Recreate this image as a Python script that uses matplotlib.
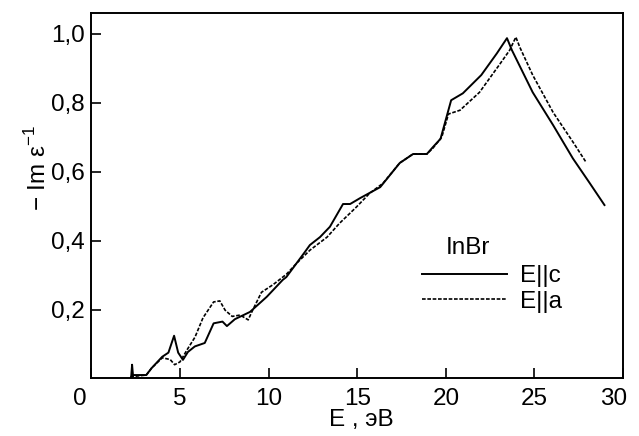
import matplotlib
matplotlib.use("Agg")
import matplotlib.pyplot as plt
import matplotlib.transforms as mtransforms

plt.rcParams["font.family"] = ["Liberation Sans", "DejaVu Sans"]
plt.rcParams["mathtext.fontset"] = "custom"
plt.rcParams["mathtext.rm"] = "Liberation Sans"

# E || c (сплошная)
e_c = [2.25, 2.3, 2.35, 2.45, 3.1, 3.4, 4.0, 4.35, 4.67, 4.9, 5.17, 5.45, 5.84, 6.4,
       6.9, 7.4, 7.65, 8.1, 8.95, 9.9, 10.8, 11.0, 12.05, 12.33, 12.9, 13.46, 14.2,
       14.6, 15.16, 16.3, 17.4, 18.15, 18.93, 19.27, 19.7, 20.3, 20.96, 22.0,
       22.88, 23.45, 23.73, 24.9, 26.05, 27.17, 28.1, 28.95]
im_c = [0.005, 0.04, 0.01, 0.01, 0.01, 0.03, 0.063, 0.075, 0.124, 0.075, 0.054, 0.077,
        0.093, 0.103, 0.16, 0.165, 0.152, 0.172, 0.193, 0.237, 0.286, 0.294, 0.367,
        0.387, 0.41, 0.44, 0.506, 0.506, 0.523, 0.555, 0.625, 0.651, 0.651, 0.671,
        0.695, 0.807, 0.827, 0.88, 0.943, 0.987, 0.952, 0.83, 0.735, 0.638, 0.568,
        0.503]

# E || a (пунктир)
e_a = [2.2, 3.1, 3.4, 4.0, 4.45, 4.7, 5.0, 5.4, 5.85, 6.3, 6.9, 7.25, 7.55, 7.95,
       8.4, 8.85, 9.1, 9.6, 10.25, 11.0, 11.6, 12.33, 13.3, 14.0, 14.95, 15.7, 16.45,
       17.4, 18.15, 18.93, 19.27, 19.77, 20.15, 20.8, 21.9, 23.05, 23.6, 23.95, 24.18,
       24.9, 26.05, 27.17, 27.9]
im_a = [0.005, 0.01, 0.03, 0.06, 0.055, 0.04, 0.048, 0.083, 0.12, 0.176, 0.222, 0.225,
        0.198, 0.18, 0.184, 0.17, 0.198, 0.25, 0.272, 0.302, 0.335, 0.372, 0.41, 0.45,
        0.497, 0.537, 0.566, 0.625, 0.651, 0.651, 0.668, 0.70, 0.767, 0.778, 0.83,
        0.912, 0.952, 0.99, 0.96, 0.88, 0.772, 0.686, 0.628]

x_ticks = [0, 5, 10, 15, 20, 25, 30]
y_ticks = [0.2, 0.4, 0.6, 0.8, 1.0]
y_labels = ["0,2", "0,4", "0,6", "0,8", "1,0"]

fig = plt.figure(figsize=(6.39, 4.36), dpi=100)
ax = fig.add_axes([0.1429, 0.1319, 0.8322, 0.8383])

ax.plot(e_c, im_c, color="black", lw=1.4, label="E||c")
ax.plot(e_a, im_a, color="black", lw=1.2, linestyle=(0, (2.2, 1.0)), label="E||a")

ax.set_xlim(0, 30)
ax.set_ylim(0, 1.06)
ax.set_xticks(x_ticks)
ax.set_yticks(y_ticks)
ax.set_yticklabels(y_labels)
ax.tick_params(direction="in", length=7, width=1.2, labelsize=17.5)
ax.tick_params(axis="x", pad=7)
ax.tick_params(axis="y", pad=4.5)
for s in ax.spines.values():
    s.set_linewidth(1.4)

# сдвиг крайних подписей
lab0 = ax.get_xticklabels()[0]
lab0.set_transform(lab0.get_transform() + mtransforms.ScaledTranslation(-0.12, 0, fig.dpi_scale_trans))
lab30 = ax.get_xticklabels()[-1]
lab30.set_transform(lab30.get_transform() + mtransforms.ScaledTranslation(-0.09, 0, fig.dpi_scale_trans))

ax.set_xlabel("E , эВ", fontsize=17.5)
ax.xaxis.set_label_coords(0.508, -0.083)
ax.text(-0.1, 0.576, "− Im ε$^{\\mathregular{−1}}$", transform=ax.transAxes,
        rotation=90, ha="center", va="center", fontsize=17.5)

ax.text(0.708, 0.357, "InBr", transform=ax.transAxes, ha="center", va="center", fontsize=17.5)
ax.legend(loc="upper left", bbox_to_anchor=(0.6216, 0.3105), frameon=False,
          fontsize=17.5, handlelength=3.5, handletextpad=0.55, labelspacing=0.15,
          borderpad=0, borderaxespad=0)

plt.savefig("out.png", dpi=100)
